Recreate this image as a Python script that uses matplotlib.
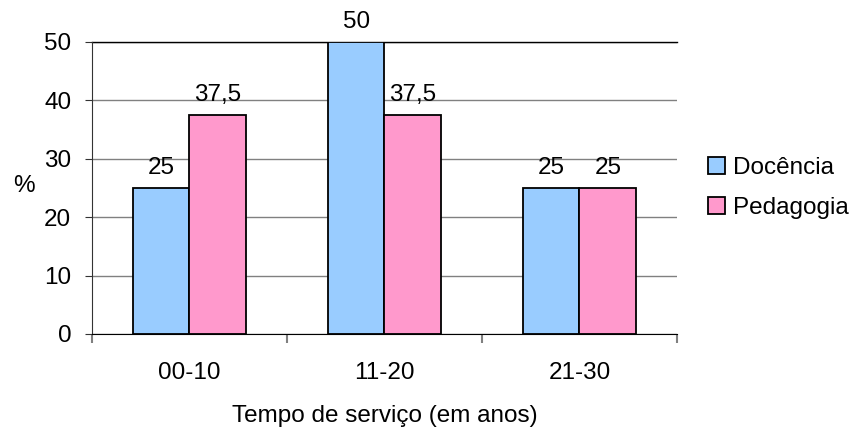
import matplotlib
matplotlib.use("Agg")
import matplotlib.pyplot as plt
import numpy as np
from matplotlib.patches import Patch

categories = ["00-10", "11-20", "21-30"]
docencia = [25, 50, 25]
pedagogia = [37.5, 37.5, 25]
series_names = ["Docência", "Pedagogia"]
labels_doc = ["25", "50", "25"]
labels_ped = ["37,5", "37,5", "25"]

plt.rcParams['font.family'] = ['Liberation Sans', 'DejaVu Sans']
fs = 17.5

W, H = 853, 430
fig = plt.figure(figsize=(W/100, H/100), dpi=100)
ax = fig.add_axes([92/W, 1-334/H, (677-92)/W, (334-42)/H])

x = np.arange(len(categories))
w = 0.29
c_blue = "#99CCFF"
c_pink = "#FF99CC"
ax.bar(x - w/2, docencia, w, color=c_blue, edgecolor="black", linewidth=1.3, zorder=3)
ax.bar(x + w/2, pedagogia, w, color=c_pink, edgecolor="black", linewidth=1.3, zorder=3)

off = 2.4
for xi, v, t in zip(x - w/2, docencia, labels_doc):
    ax.text(xi, v + off, t, ha="center", va="baseline", fontsize=fs)
for xi, v, t in zip(x + w/2, pedagogia, labels_ped):
    ax.text(xi, v + off, t, ha="center", va="baseline", fontsize=fs)

ax.set_xlim(-0.5, 2.5)
ax.set_ylim(0, 50)
ax.set_yticks([0, 10, 20, 30, 40, 50])
ax.yaxis.grid(True, color="#808080", linewidth=1, zorder=0)
ax.set_axisbelow(True)
ax.axhline(50, color="black", linewidth=1, zorder=1, clip_on=False)
for s in ["top", "right"]:
    ax.spines[s].set_visible(False)
ax.spines["left"].set_color("#333333")
ax.spines["bottom"].set_color("black")

ax.set_xticks([-0.5, 0.5, 1.5, 2.5], minor=False)
ax.set_xticklabels([])
ax.tick_params(axis="x", which="major", length=6.5, color="#808080", width=1.5)
ax.set_xticks(x, minor=True)
ax.set_xticklabels(categories, minor=True, fontsize=fs)
ax.tick_params(axis="x", which="minor", length=0, pad=20)
ax.tick_params(axis="y", length=5, color="#333333", labelsize=fs, pad=10)

ax.set_xlabel("Tempo de serviço (em anos)", fontsize=fs)
ax.xaxis.set_label_coords(0.5, -(405-334)/(334-42))
ax.set_ylabel("%", fontsize=fs, rotation=0, va="center", ha="center")
ax.yaxis.set_label_coords(-(92-24)/(677-92), (334-186)/(334-42))

handles = [Patch(facecolor=c_blue, edgecolor="black", linewidth=1.3),
           Patch(facecolor=c_pink, edgecolor="black", linewidth=1.3)]
fig.legend(handles, series_names, loc="center left", bbox_to_anchor=(708/W, 1-188/H),
           frameon=False, fontsize=fs, handlelength=0.7, handleheight=0.7, handletextpad=0.33,
           labelspacing=0.7, borderpad=0, borderaxespad=0)

fig.savefig("out.png", dpi=100)
